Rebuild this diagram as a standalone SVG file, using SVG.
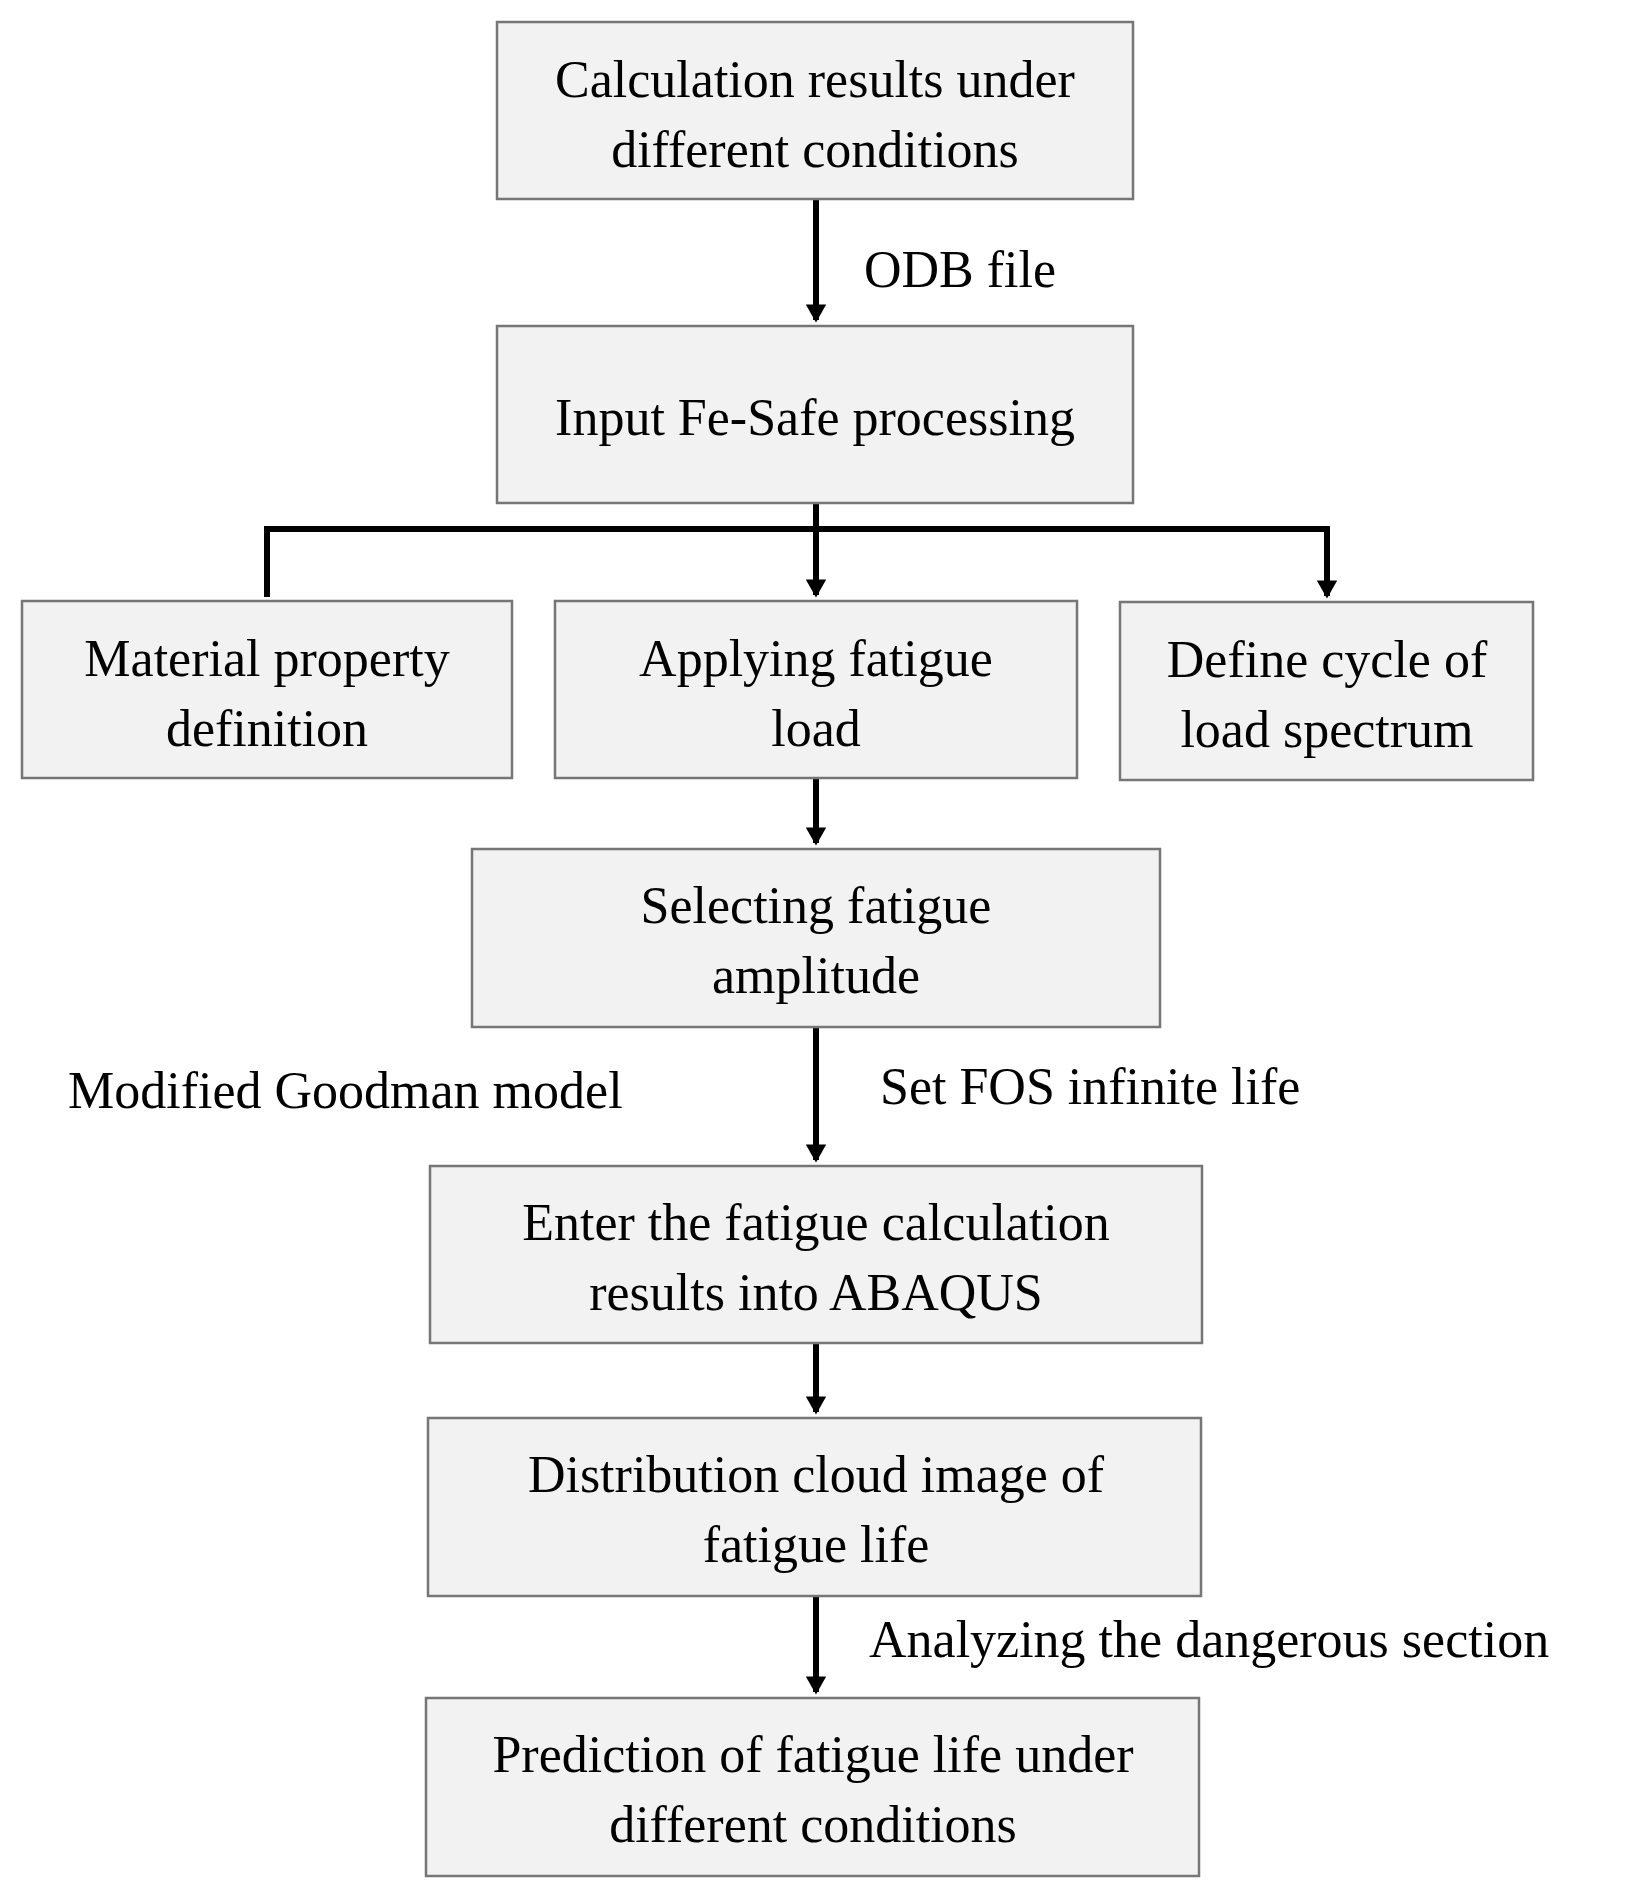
<svg xmlns="http://www.w3.org/2000/svg" width="1649" height="1890" viewBox="0 0 1649 1890">
<style>
rect{fill:#f2f2f2;stroke:#767676;stroke-width:2.5}
text{font-family:"Liberation Serif","Times New Roman",serif;font-size:52px;fill:#000}
.c{text-anchor:middle}
.ln{stroke:#000;stroke-width:6;fill:none}
</style>
<defs><marker id="a" markerWidth="4" markerHeight="4" refX="2.6" refY="2" orient="auto" markerUnits="strokeWidth"><path d="M0,0.3 L3,2 L0,3.7 z" fill="#000"/></marker></defs>
<rect width="1649" height="1890" fill="#fff" style="stroke:none;fill:#fff"/>
<g id="connectors">
<path class="ln" d="M816,199 V320" marker-end="url(#a)"/>
<path class="ln" d="M816,503 V595"  marker-end="url(#a)"/>
<path class="ln" d="M267,597 V529 H1327 V596" marker-end="url(#a)"/>
<path class="ln" d="M816,778 V843" marker-end="url(#a)"/>
<path class="ln" d="M816,1027 V1160" marker-end="url(#a)"/>
<path class="ln" d="M816,1343 V1412" marker-end="url(#a)"/>
<path class="ln" d="M816,1596 V1692" marker-end="url(#a)"/>
</g>
<g id="n1"><rect x="497" y="22" width="636" height="177"/><text class="c" x="815" y="97">Calculation results under</text><text class="c" x="815" y="167">different conditions</text></g>
<g id="n2"><rect x="497" y="326" width="636" height="177"/><text class="c" x="815" y="435">Input Fe-Safe processing</text></g>
<g id="n3"><rect x="22" y="601" width="490" height="177"/><text class="c" x="267" y="676">Material property</text><text class="c" x="267" y="746">definition</text></g>
<g id="n4"><rect x="555" y="601" width="522" height="177"/><text class="c" x="816" y="676">Applying fatigue</text><text class="c" x="816" y="746">load</text></g>
<g id="n5"><rect x="1120" y="602" width="413" height="178"/><text class="c" x="1327" y="677">Define cycle of</text><text class="c" x="1327" y="747">load spectrum</text></g>
<g id="n6"><rect x="472" y="849" width="688" height="178"/><text class="c" x="816" y="923">Selecting fatigue</text><text class="c" x="816" y="993">amplitude</text></g>
<g id="n7"><rect x="430" y="1166" width="772" height="177"/><text class="c" x="816" y="1240">Enter the fatigue calculation</text><text class="c" x="816" y="1310">results into ABAQUS</text></g>
<g id="n8"><rect x="428" y="1418" width="773" height="178"/><text class="c" x="816" y="1492">Distribution cloud image of</text><text class="c" x="816" y="1562">fatigue life</text></g>
<g id="n9"><rect x="426" y="1698" width="773" height="178"/><text class="c" x="813" y="1772">Prediction of fatigue life under</text><text class="c" x="813" y="1842">different conditions</text></g>
<g id="labels">
<text x="864" y="287">ODB file</text>
<text x="68" y="1108">Modified Goodman model</text>
<text x="880" y="1104">Set FOS infinite life</text>
<text x="869" y="1657">Analyzing the dangerous section</text>
</g>
</svg>
